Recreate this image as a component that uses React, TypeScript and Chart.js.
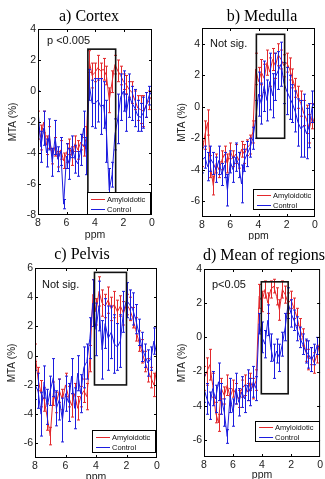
import React, { useEffect, useRef } from "react";
import { Chart, registerables } from "chart.js";
Chart.register(...registerables);

// ---------- data ----------
const ppm = [8.0, 7.8, 7.6, 7.4, 7.2, 7.0, 6.8, 6.6, 6.4, 6.2, 6.0, 5.8, 5.6, 5.4, 5.2, 5.0, 4.8, 4.6, 4.4, 4.2, 4.0, 3.8, 3.6, 3.4, 3.2, 3.0, 2.8, 2.6, 2.4, 2.2, 2.0, 1.8, 1.6, 1.4, 1.2, 1.0, 0.8, 0.6, 0.4, 0.2, 0.0];
const xTicks = [8, 6, 4, 2, 0];
const seriesLabels = ["Amyloidotic", "Control"];
const panelTitles = ["a) Cortex", "b) Medulla", "c) Pelvis", "d) Mean of regions"];
const panelNotes = ["p <0.005", "Not sig.", "Not sig.", "p<0.05"];
const yAxisTitle = "MTA (%)";
const xAxisTitle = "ppm";

const cortexTicks = [-8, -6, -4, -2, 0, 2, 4];
const medullaTicks = [-6, -4, -2, 0, 2, 4];
const pelvisTicks = [-6, -4, -2, 0, 2, 4, 6];
const meanTicks = [-6, -4, -2, 0, 2, 4];

const cortexRange = [-8, 4];
const medullaRange = [-7, 5];
const pelvisRange = [-7, 6];
const meanRange = [-7, 4];

// highlighted box: [ppm1, ppm2, yTop, yBottom]
const cortexBox = [4.5, 2.55, 2.7, -6.6];
const medullaBox = [4.15, 2.15, 4.6, -2.0];
const pelvisBox = [4.1, 2.0, 5.7, -2.0];
const meanBox = [4.05, 2.2, 3.25, -3.3];

const cortexAmy = [-2.2, -3.0, -2.0, -3.5, -3.0, -4.2, -3.6, -4.4, -3.8, -4.5, -4.0, -3.6, -4.2, -3.4, -3.8, -3.3, -3.6, -3.0, 1.9, 1.0, 1.2, 1.5, 1.3, 1.4, 1.0, -0.6, 0.6, 1.7, 1.3, 1.0, 0.6, 0.4, 0.1, -0.1, -0.6, -1.1, -1.2, -1.3, -0.9, -0.6, -0.3];
const cortexAmyErr = [0.9, 0.8, 0.7, 0.6, 0.7, 0.5, 0.6, 0.5, 0.6, 0.5, 0.6, 0.5, 0.6, 0.5, 0.6, 0.5, 0.6, 0.7, 0.7, 0.8, 0.6, 0.8, 0.5, 0.7, 0.6, 0.8, 0.7, 0.6, 0.7, 0.6, 0.5, 0.6, 0.5, 0.7, 0.6, 0.8, 0.9, 1.0, 0.8, 0.6, 0.5];
const cortexCtl = [-1.2, -3.6, -2.4, -4.0, -2.8, -4.6, -3.0, -4.4, -3.9, -7.3, -4.2, -4.7, -3.6, -4.4, -4.7, -3.8, -2.4, -4.2, 0.4, -0.8, -0.8, -0.6, -1.0, -0.9, -2.6, -6.4, -5.4, -2.8, -1.8, -0.4, 0.0, -1.4, -0.3, -0.8, -1.1, -1.6, -1.7, -1.4, -0.9, -0.3, 0.0];
const cortexCtlErr = [1.2, 1.0, 1.1, 0.9, 1.0, 0.9, 1.1, 0.8, 0.9, 0.3, 0.8, 1.0, 0.7, 0.9, 0.8, 1.0, 1.1, 1.2, 1.0, 1.5, 1.6, 1.4, 1.8, 1.5, 2.0, 1.4, 0.8, 1.0, 1.6, 1.5, 1.3, 1.2, 1.4, 1.1, 1.2, 1.0, 0.9, 1.0, 0.8, 0.6, 0.5];

const medullaAmy = [-3.0, -1.8, -1.0, -3.8, -5.0, -3.6, -4.0, -3.4, -3.0, -3.6, -2.8, -3.3, -3.0, -3.4, -2.7, -3.0, -2.6, -2.4, -1.6, 2.4, 1.6, 2.2, 1.8, 2.8, 2.2, 3.0, 2.6, 3.3, 3.0, 2.6, 2.8, 2.4, 1.8, 1.2, 0.6, 0.2, -0.4, -0.8, -1.4, -0.6, -1.2];
const medullaAmyErr = [0.8, 0.9, 0.8, 0.7, 0.6, 0.6, 0.5, 0.6, 0.5, 0.6, 0.5, 0.5, 0.6, 0.5, 0.5, 0.6, 0.5, 0.6, 0.7, 1.0, 0.9, 0.8, 0.9, 0.8, 0.9, 0.7, 0.8, 0.7, 0.6, 0.7, 0.6, 0.7, 0.6, 0.6, 0.7, 0.8, 0.8, 0.9, 0.9, 0.8, 0.7];
const medullaCtl = [-3.4, -3.2, -3.8, -3.3, -3.6, -4.0, -3.4, -4.3, -3.7, -5.3, -3.5, -4.0, -3.2, -3.7, -4.9, -3.4, -3.0, -2.6, -2.0, -0.8, 0.8, 0.2, 1.3, 0.4, 1.6, 0.7, 1.9, 2.3, 2.7, 1.5, 1.0, 0.6, 0.2, -0.3, -1.0, -1.4, -1.2, -1.7, -1.2, 0.0, 0.3];
const medullaCtlErr = [0.8, 0.7, 0.9, 0.8, 0.7, 0.8, 0.9, 0.7, 0.8, 1.0, 0.7, 0.8, 0.9, 0.8, 1.2, 0.7, 0.8, 0.6, 0.7, 1.2, 1.4, 1.3, 1.6, 1.3, 1.8, 1.4, 1.5, 1.2, 1.4, 1.3, 1.5, 1.4, 1.2, 1.3, 1.5, 1.8, 2.0, 1.6, 1.4, 1.0, 0.7];

const pelvisAmy = [0.2, -1.6, -2.6, -3.0, -4.2, -5.5, -2.6, -3.2, -2.4, -3.0, -2.0, -2.8, -3.4, -2.6, -3.6, -2.8, -2.4, -2.8, -0.2, 4.2, 3.0, 4.4, 3.6, 3.4, 3.8, 3.2, 3.5, 3.0, 3.4, 2.9, 3.5, 3.2, 2.6, 1.8, 1.0, 0.3, -0.4, -1.0, -1.5, -2.0, -0.8];
const pelvisAmyErr = [0.6, 0.8, 0.9, 0.8, 0.9, 0.6, 0.8, 0.7, 0.8, 0.7, 0.8, 0.7, 0.8, 0.7, 0.8, 0.7, 0.8, 0.9, 0.9, 1.0, 0.9, 1.0, 0.9, 0.8, 0.9, 0.8, 0.9, 0.8, 0.7, 0.8, 0.7, 0.8, 0.7, 0.8, 0.7, 0.8, 0.7, 0.8, 0.7, 0.8, 0.6];
const pelvisCtl = [-2.0, -2.4, -4.0, -1.8, -3.5, -2.4, -1.5, -3.6, -3.0, -4.4, -2.6, -3.2, -1.4, -3.6, -1.2, -2.6, -0.8, -0.4, 1.2, 3.6, 1.8, 3.4, 0.4, 2.2, 1.2, 1.6, 0.8, 0.6, 1.0, 3.0, 3.8, 3.5, 3.2, 2.5, 1.6, 0.6, 0.0, -0.5, -0.2, 1.0, 0.0];
const pelvisCtlErr = [1.0, 1.2, 1.5, 1.1, 1.2, 1.0, 1.3, 1.2, 1.4, 1.5, 1.2, 1.3, 1.2, 1.4, 1.2, 1.3, 1.4, 1.2, 1.4, 1.6, 1.8, 1.7, 2.0, 1.7, 2.2, 1.8, 2.0, 1.6, 1.8, 1.4, 1.2, 1.0, 1.1, 1.0, 0.9, 1.0, 0.8, 0.9, 0.8, 0.9, 0.7];

const meanAmy = [-2.4, -2.0, -1.6, -2.8, -4.4, -5.0, -3.0, -3.4, -2.8, -3.5, -3.0, -3.3, -3.6, -3.0, -2.8, -3.2, -2.6, -3.0, -2.5, 2.4, 2.1, 2.8, 2.0, 2.8, 3.0, 2.4, 1.6, 2.8, 2.5, 2.0, 2.2, 1.7, 1.2, 0.5, 0.0, -0.8, -1.3, -1.1, -1.5, -1.0, -0.2];
const meanAmyErr = [0.7, 0.8, 0.9, 0.7, 0.6, 0.5, 0.6, 0.5, 0.6, 0.5, 0.5, 0.6, 0.5, 0.5, 0.6, 0.5, 0.5, 0.6, 0.6, 0.7, 0.6, 0.5, 0.6, 0.5, 0.4, 0.5, 0.6, 0.5, 0.5, 0.6, 0.5, 0.6, 0.5, 0.6, 0.5, 0.6, 0.6, 0.5, 0.6, 0.5, 0.4];
const meanCtl = [-3.0, -3.6, -4.0, -3.0, -3.6, -2.6, -3.6, -4.4, -5.8, -3.4, -4.4, -3.0, -3.8, -3.2, -3.6, -2.8, -3.2, -2.6, -3.0, 0.8, 0.0, -0.4, 1.0, -0.6, -1.4, -0.8, -1.2, -0.4, 0.6, 2.0, 1.4, 1.0, 0.5, 0.0, -0.4, -0.8, -1.0, -1.3, -1.0, -0.5, -0.6];
const meanCtlErr = [0.8, 0.9, 0.8, 1.0, 0.8, 1.1, 0.9, 0.8, 0.4, 1.0, 0.8, 0.9, 0.8, 0.9, 0.8, 0.9, 0.8, 0.9, 0.7, 0.6, 0.9, 0.8, 0.9, 0.8, 1.0, 0.7, 0.8, 0.7, 0.8, 0.9, 0.8, 0.6, 0.7, 0.6, 0.6, 0.7, 0.8, 0.7, 0.6, 0.5, 0.4];

// ---------- styles / layout ----------
const RED = "rgb(226,40,44)";
const BLUE = "rgb(28,28,222)";
const SANS = '"Liberation Sans", Arial, sans-serif';
const SERIF = '"Liberation Serif", "Times New Roman", serif';

type PanelCfg = {
  left: number; top: number; w: number; h: number;
  yWidth: number; padTop: number; padRight: number; xHeight: number;
  yTitlePad: number; xTitlePad: number;
  titleX: number; titleY: number;
  noteDx: number; noteDy: number;
  legRightDx: number; legBottomDy: number; legW: number; legH: number;
  title: string; note: string;
  range: number[]; yTicks: number[]; box: number[];
  amy: number[]; amyErr: number[]; ctl: number[]; ctlErr: number[];
};

const panels: PanelCfg[] = [
  { left: 0, top: 0, w: 162, h: 240, yWidth: 38, padTop: 29, padRight: 10, xHeight: 25, yTitlePad: 7, xTitlePad: -1,
    titleX: 89, titleY: 17, noteDx: 9, noteDy: 12, legRightDx: -1, legBottomDy: 0, legW: 64, legH: 23,
    title: panelTitles[0], note: panelNotes[0], range: cortexRange, yTicks: cortexTicks, box: cortexBox,
    amy: cortexAmy, amyErr: cortexAmyErr, ctl: cortexCtl, ctlErr: cortexCtlErr },
  { left: 162, top: 0, w: 163, h: 240, yWidth: 40, padTop: 28, padRight: 10, xHeight: 23, yTitlePad: 14, xTitlePad: -2,
    titleX: 100, titleY: 17, noteDx: 8, noteDy: 16, legRightDx: 0, legBottomDy: -7, legW: 62, legH: 21,
    title: panelTitles[1], note: panelNotes[1], range: medullaRange, yTicks: medullaTicks, box: medullaBox,
    amy: medullaAmy, amyErr: medullaAmyErr, ctl: medullaCtl, ctlErr: medullaCtlErr },
  { left: 0, top: 240, w: 162, h: 239, yWidth: 35, padTop: 28, padRight: 5, xHeight: 21, yTitlePad: 6, xTitlePad: -4,
    titleX: 82, titleY: 15, noteDx: 7, noteDy: 17, legRightDx: -1, legBottomDy: -5, legW: 64, legH: 23,
    title: panelTitles[2], note: panelNotes[2], range: pelvisRange, yTicks: pelvisTicks, box: pelvisBox,
    amy: pelvisAmy, amyErr: pelvisAmyErr, ctl: pelvisCtl, ctlErr: pelvisCtlErr },
  { left: 162, top: 240, w: 163, h: 239, yWidth: 42, padTop: 29, padRight: 3, xHeight: 22, yTitlePad: 14, xTitlePad: -2,
    titleX: 102, titleY: 16, noteDx: 8, noteDy: 16, legRightDx: 0, legBottomDy: -15, legW: 65, legH: 21,
    title: panelTitles[3], note: panelNotes[3], range: meanRange, yTicks: meanTicks, box: meanBox,
    amy: meanAmy, amyErr: meanAmyErr, ctl: meanCtl, ctlErr: meanCtlErr },
];

function makeDeco(cfg: PanelCfg) {
  return {
    id: "deco",
    afterDatasetDraw(chart: any, args: any) {
      const ds: any = chart.data.datasets[args.index];
      const errs: number[] = ds.errors;
      if (!errs) return;
      const { ctx, chartArea: a, scales } = chart;
      const x = scales.x, y = scales.y;
      ctx.save();
      ctx.beginPath();
      ctx.rect(a.left, a.top, a.right - a.left, a.bottom - a.top);
      ctx.clip();
      ctx.strokeStyle = ds.borderColor;
      ctx.lineWidth = 1;
      ctx.beginPath();
      ds.data.forEach((p: any, i: number) => {
        const e = errs[i];
        if (e == null) return;
        const px = Math.round(x.getPixelForValue(p.x)) + 0.5;
        const y1 = y.getPixelForValue(p.y + e);
        const y2 = y.getPixelForValue(p.y - e);
        ctx.moveTo(px, y1); ctx.lineTo(px, y2);
        ctx.moveTo(px - 1.5, y1); ctx.lineTo(px + 1.5, y1);
        ctx.moveTo(px - 1.5, y2); ctx.lineTo(px + 1.5, y2);
      });
      ctx.stroke();
      ctx.restore();
    },
    afterDraw(chart: any) {
      const { ctx, chartArea: a, scales } = chart;
      const x = scales.x, y = scales.y;
      ctx.save();
      // frame
      ctx.strokeStyle = "#000";
      ctx.lineWidth = 1;
      ctx.strokeRect(a.left + 0.5, a.top + 0.5, a.right - a.left - 1, a.bottom - a.top - 1);
      // inner ticks
      ctx.beginPath();
      xTicks.forEach((v) => {
        const px = Math.round(x.getPixelForValue(v)) + 0.5;
        if (px < a.left + 2 || px > a.right - 2) return;
        ctx.moveTo(px, a.bottom); ctx.lineTo(px, a.bottom - 3);
        ctx.moveTo(px, a.top); ctx.lineTo(px, a.top + 3);
      });
      cfg.yTicks.forEach((v) => {
        const py = Math.round(y.getPixelForValue(v)) + 0.5;
        if (py < a.top + 2 || py > a.bottom - 2) return;
        ctx.moveTo(a.left, py); ctx.lineTo(a.left + 3, py);
        ctx.moveTo(a.right, py); ctx.lineTo(a.right - 3, py);
      });
      ctx.stroke();
      // highlight box
      const [b1, b2, bt, bb] = cfg.box;
      const bx1 = x.getPixelForValue(b1), bx2 = x.getPixelForValue(b2);
      const by1 = y.getPixelForValue(bt), by2 = y.getPixelForValue(bb);
      ctx.lineWidth = 1.6;
      ctx.strokeStyle = "#111";
      ctx.strokeRect(bx1, by1, bx2 - bx1, by2 - by1);
      // note
      ctx.fillStyle = "#111";
      ctx.font = `11px ${SANS}`;
      ctx.textAlign = "left";
      ctx.textBaseline = "middle";
      ctx.fillText(cfg.note, a.left + cfg.noteDx, a.top + cfg.noteDy);
      // legend
      const lr = a.right + cfg.legRightDx;
      const lb = a.bottom + cfg.legBottomDy;
      const lx = lr - cfg.legW, ly = lb - cfg.legH;
      ctx.fillStyle = "#fff";
      ctx.fillRect(lx, ly, cfg.legW, cfg.legH);
      ctx.lineWidth = 1;
      ctx.strokeStyle = "#000";
      ctx.strokeRect(Math.round(lx) + 0.5, Math.round(ly) + 0.5, cfg.legW - 1, cfg.legH - 1);
      ctx.font = `7.5px ${SANS}`;
      chart.data.datasets.forEach((ds: any, i: number) => {
        const ry = Math.round(ly + cfg.legH * (i === 0 ? 0.3 : 0.74)) + 0.5;
        ctx.strokeStyle = ds.borderColor;
        ctx.beginPath();
        ctx.moveTo(lx + 4, ry); ctx.lineTo(lx + 18, ry);
        ctx.stroke();
        ctx.fillStyle = "#111";
        ctx.fillText(ds.label, lx + 20, ry);
      });
      // panel title
      ctx.fillStyle = "#000";
      ctx.font = `16px ${SERIF}`;
      ctx.textAlign = "center";
      ctx.fillText(cfg.title, cfg.titleX, cfg.titleY);
      ctx.restore();
    },
  };
}

function Panel({ cfg }: { cfg: PanelCfg }) {
  const ref = useRef<HTMLCanvasElement>(null);
  useEffect(() => {
    if (!ref.current) return;
    const chart = new Chart(ref.current, {
      type: "line",
      data: {
        datasets: [
          {
            label: seriesLabels[0],
            data: ppm.map((v, i) => ({ x: v, y: cfg.amy[i] })),
            borderColor: RED,
            borderWidth: 1,
            pointRadius: 0,
            tension: 0,
            order: 2,
            errors: cfg.amyErr,
          } as any,
          {
            label: seriesLabels[1],
            data: ppm.map((v, i) => ({ x: v, y: cfg.ctl[i] })),
            borderColor: BLUE,
            borderWidth: 1,
            pointRadius: 0,
            tension: 0,
            order: 1,
            errors: cfg.ctlErr,
          } as any,
        ],
      },
      options: {
        animation: false,
        responsive: false,
        maintainAspectRatio: false,
        layout: { padding: { top: cfg.padTop, right: cfg.padRight, left: 0, bottom: 0 } },
        plugins: { legend: { display: false }, tooltip: { enabled: false }, title: { display: false } },
        scales: {
          x: {
            type: "linear",
            reverse: true,
            min: 0,
            max: 8,
            grid: { display: false, drawTicks: false, tickLength: 0 },
            border: { display: false },
            afterBuildTicks: (s: any) => { s.ticks = xTicks.map((v) => ({ value: v })); },
            afterFit: (s: any) => { s.height = cfg.xHeight; },
            ticks: { color: "#222", font: { family: SANS, size: 10.5 }, padding: 2, autoSkip: false, maxRotation: 0 },
            title: { display: true, text: xAxisTitle, color: "#222", font: { family: SANS, size: 10.5 }, padding: { top: 0, bottom: cfg.xTitlePad } },
          },
          y: {
            type: "linear",
            min: cfg.range[0],
            max: cfg.range[1],
            grid: { display: false, drawTicks: false, tickLength: 0 },
            border: { display: false },
            afterBuildTicks: (s: any) => { s.ticks = cfg.yTicks.map((v) => ({ value: v })); },
            afterFit: (s: any) => { s.width = cfg.yWidth; },
            ticks: { color: "#222", font: { family: SANS, size: 10.5 }, padding: 2, autoSkip: false },
            title: { display: true, text: yAxisTitle, color: "#222", font: { family: SANS, size: 10 }, padding: { top: cfg.yTitlePad, bottom: 0 } },
          },
        },
      },
      plugins: [makeDeco(cfg)],
    } as any);
    return () => chart.destroy();
  }, [cfg]);
  return (
    <canvas
      ref={ref}
      width={cfg.w}
      height={cfg.h}
      style={{ position: "absolute", left: cfg.left, top: cfg.top, width: cfg.w, height: cfg.h }}
    />
  );
}

export default function App() {
  return (
    <div style={{ position: "absolute", left: 0, top: 0, width: 325, height: 479, background: "#fff", overflow: "hidden" }}>
      {panels.map((p, i) => (
        <Panel key={i} cfg={p} />
      ))}
    </div>
  );
}
